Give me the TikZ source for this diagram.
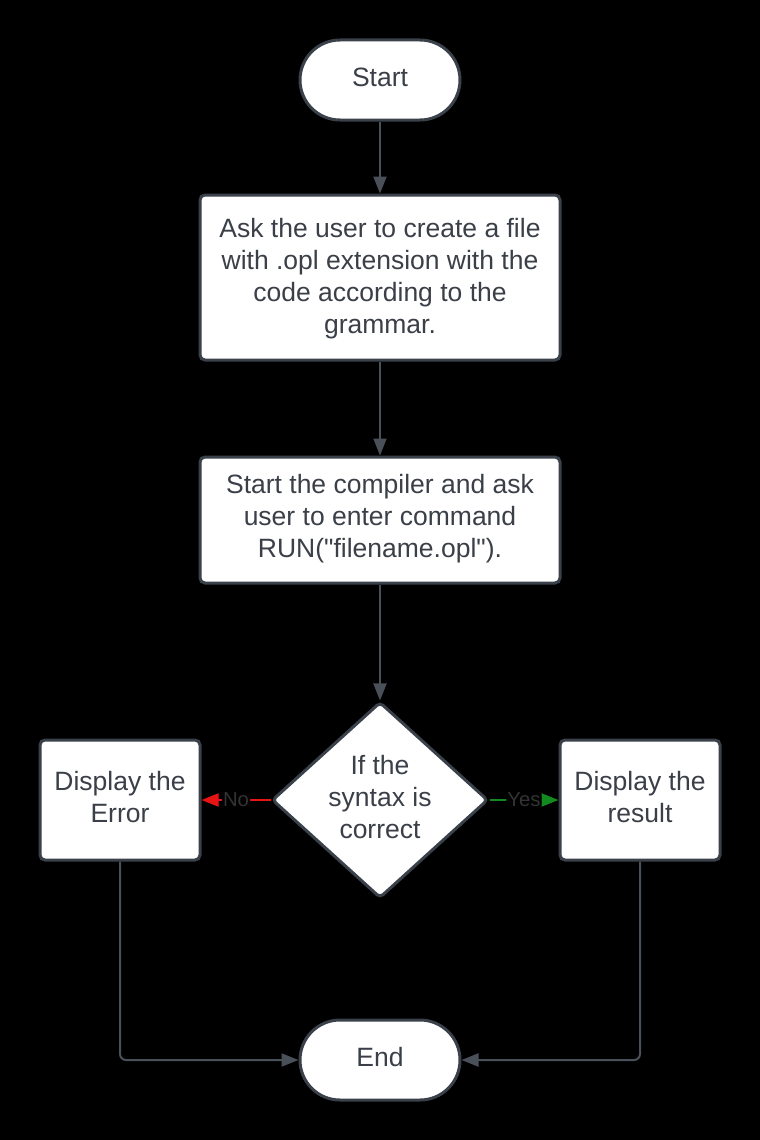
\documentclass[tikz,border=0pt]{standalone}
\usepackage{fontspec}
\setmainfont{Liberation Sans}
\usetikzlibrary{arrows.meta,shapes.geometric}
\definecolor{bordergray}{HTML}{3A414A}
\definecolor{textgray}{HTML}{3A3F48}
\definecolor{arrowgray}{HTML}{4A5059}
\definecolor{nored}{HTML}{E81313}
\definecolor{yesgreen}{HTML}{138A20}
\definecolor{labelgray}{HTML}{333333}
\tikzset{
  base/.style={draw=bordergray, line width=3pt, fill=white, inner sep=0pt},
  txt/.style={text=textgray, font=\fontsize{26.5}{32}\selectfont, align=center,
    inner sep=0pt},
  terminal/.style={base, rounded corners=40pt, minimum width=160pt, minimum height=80pt},
  process/.style={base, rounded corners=5pt},
  decision/.style={base, diamond, rounded corners=4pt, minimum width=216pt, minimum height=196pt},
  flow/.style={draw=arrowgray, line width=2pt, rounded corners=6pt, -{Triangle[length=17pt,width=13pt]}},
  lbl/.style={fill=black, text=labelgray, font=\fontsize{20.3}{24}\selectfont, inner sep=1pt}
}
\begin{document}
\begin{tikzpicture}[x=1pt,y=-1pt]
\useasboundingbox[fill=black] (0,0) rectangle (760,1140);
\node[terminal, label={[txt, yshift=3pt]center:Start}] (start) at (380,80) {};
\node[process, minimum width=360pt, minimum height=165pt,
  label={[txt, yshift=-1pt]center:{Ask the user to create a file\\with .opl extension with the\\code according to the\\grammar.}}] (ask) at (380,277.5) {};
\node[process, minimum width=360pt, minimum height=126pt,
  label={[txt, yshift=1pt]center:{Start the compiler and ask\\user to enter command\\RUN(\textquotedbl filename.opl\textquotedbl).}}] (comp) at (380,520) {};
\node[decision, label={[txt, yshift=3pt]center:{If the\\syntax is\\correct}}] (dec) at (380,800) {};
\node[process, minimum width=160pt, minimum height=120pt,
  label={[txt, yshift=3pt]center:{Display the\\Error}}] (err) at (120,800) {};
\node[process, minimum width=160pt, minimum height=120pt,
  label={[txt, yshift=3pt]center:{Display the\\result}}] (res) at (640,800) {};
\node[terminal, label={[txt, yshift=3pt]center:End}] (end) at (380,1060) {};

\draw[flow] (start) -- (ask);
\draw[flow] (ask) -- (comp);
\draw[flow] (comp) -- (dec);
\draw[flow, draw=nored, -{Triangle[length=17pt,width=13pt,fill=nored]}] (dec.west) -- node[lbl] (no) {No} (err.east);
\draw[flow, draw=yesgreen, -{Triangle[length=17pt,width=13pt,fill=yesgreen]}] (dec.east) -- node[lbl] (yes) {Yes} (res.west);
\draw[flow] (err.south) |- (end.west);
\draw[flow] (res.south) |- (end.east);
\end{tikzpicture}
\end{document}
